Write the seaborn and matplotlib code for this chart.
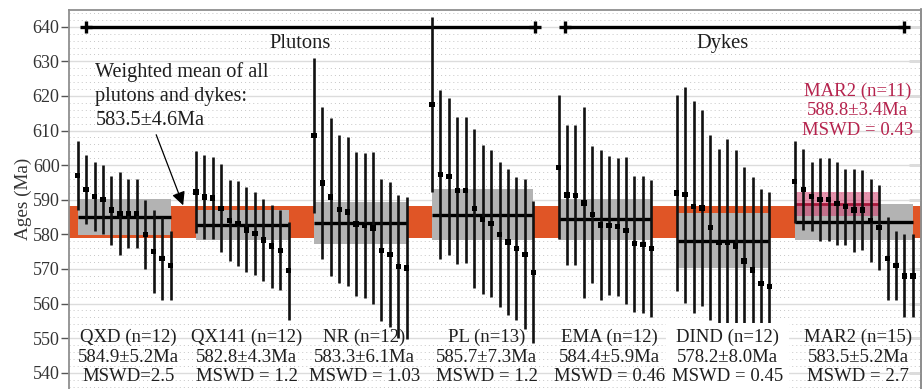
import matplotlib

matplotlib.use("Agg")
import matplotlib.pyplot as plt
import numpy as np
import pandas as pd
import seaborn as sns
from matplotlib.ticker import MultipleLocator

# single-grain ages (Ma) and 2-sigma errors, read group by group
qxd_age = [597.0, 593.0, 591.0, 590.0, 587.0, 586.0, 586.0, 586.0, 580.0, 575.0, 573.0, 571.0]
qxd_err = [10.0, 10.0, 10.0, 10.0, 10.0, 12.0, 10.0, 10.0, 10.0, 12.0, 12.0, 10.0]

qx141_age = [592.3, 590.8, 590.5, 587.5, 584.0, 583.2, 581.3, 580.2, 578.4, 576.6, 575.4, 569.5]
qx141_err = [11.8, 12.1, 11.8, 12.7, 11.8, 12.3, 12.3, 12.0, 11.8, 12.0, 11.5, 14.2]

nr_age = [608.6, 594.8, 590.8, 587.2, 586.5, 583.0, 582.5, 581.8, 575.4, 574.1, 570.7, 570.3]
nr_err = [22.3, 21.9, 22.7, 21.4, 21.5, 20.7, 21.0, 22.0, 20.5, 21.0, 20.6, 20.6]

pl_age = [617.6, 597.3, 596.7, 592.7, 592.7, 587.5, 584.3, 583.2, 580.0, 577.8, 575.9, 574.2, 569.0]
pl_err = [25.3, 24.5, 22.6, 21.3, 21.1, 23.1, 21.4, 21.2, 21.0, 21.1, 20.6, 21.7, 20.5]

ema_age = [599.4, 591.4, 591.3, 589.1, 585.8, 582.7, 582.6, 582.2, 581.2, 577.3, 577.0, 576.0]
ema_err = [20.8, 20.2, 20.3, 27.6, 19.8, 21.7, 20.1, 20.0, 21.2, 19.7, 19.8, 19.8]

dind_age = [592.0, 591.5, 588.0, 587.6, 582.0, 577.6, 577.6, 576.6, 572.3, 569.7, 565.8, 564.9]
dind_err = [28.3, 31.2, 30.6, 28.3, 26.8, 27.0, 29.9, 27.8, 27.3, 27.0, 27.2, 27.4]

mar2_age = [595.2, 593.0, 591.0, 590.0, 590.0, 589.0, 588.0, 587.0, 587.0, 584.0, 582.0, 573.0, 571.0, 568.0, 568.0]
mar2_err = [11.8, 11.8, 9.9, 12.0, 12.0, 12.0, 11.0, 12.0, 11.5, 12.0, 12.2, 12.0, 10.0, 12.0, 12.0]

group_names = ["QXD", "QX141", "NR", "PL", "EMA", "DIND", "MAR2"]
group_ages = [qxd_age, qx141_age, nr_age, pl_age, ema_age, dind_age, mar2_age]
group_errs = [qxd_err, qx141_err, nr_err, pl_err, ema_err, dind_err, mar2_err]
group_mean = [584.9, 582.8, 583.3, 585.7, 584.4, 578.2, 583.5]
group_mean_err = [5.2, 4.3, 6.1, 7.3, 5.9, 8.0, 5.2]
group_mswd = ["MSWD=2.5", "MSWD = 1.2", "MSWD = 1.03", "MSWD = 1.2",
              "MSWD = 0.46", "MSWD = 0.45", "MSWD = 2.7"]

all_mean = 583.5
all_err = 4.6

# MAR2 subset of the first 11 grains
sub_n = 11
sub_mean = 588.8
sub_err = 3.4
sub_mswd = "MSWD = 0.43"

plutons_span = [2.0, 55.2]
dykes_span = [58.8, 99.0]

GAP = 2
ORANGE = "#e05526"
GREY = "#b3b3b3"
CRIMSON = "#b5234d"
TEXT = "#1e1e1e"

sns.set_theme(style="white")
plt.rcParams["font.family"] = ["Liberation Serif", "DejaVu Serif"]


def build_frame() -> pd.DataFrame:
    rows = []
    start = 1
    for name, ages, errs in zip(group_names, group_ages, group_errs):
        for i, (a, e) in enumerate(zip(ages, errs)):
            rows.append({"group": name, "pos": start + i, "age": a, "err": e})
        start += len(ages) + GAP
    return pd.DataFrame(rows)


df = build_frame()

fig = plt.figure(figsize=(9.22, 3.89), dpi=100)
ax = fig.add_axes([69.3 / 922, 0.0, 1 - 70.0 / 922, 1 - 9.5 / 389])

ax.axhspan(all_mean - all_err, all_mean + all_err, color=ORANGE, lw=0, zorder=1)

for k, name in enumerate(group_names):
    g = df[df["group"] == name]
    x0, x1 = g["pos"].min(), g["pos"].max()
    m, e = group_mean[k], group_mean_err[k]
    ax.fill_between([x0, x1], m - e, m + e, color=GREY, lw=0, zorder=2)
    ax.hlines(m, x0, x1, color="black", lw=2.4, zorder=4)
    label = f"{name} (n={len(g)})\n{m:.1f}±{e:.1f}Ma\n{group_mswd[k]}"
    box = None
    if name == "DIND":
        box = dict(boxstyle="square,pad=0.3", fc="white", ec="none")
    ax.text((x0 + x1) / 2 + 0.5, 544.5, label, ha="center", va="center",
            fontsize=13.5, linespacing=1.2, color=TEXT, zorder=7, bbox=box)

# MAR2 sub-population
m2 = df[df["group"] == "MAR2"].iloc[:sub_n]
s0, s1 = m2["pos"].min(), m2["pos"].max()
ax.fill_between([s0, s1], sub_mean - sub_err, sub_mean + sub_err,
                color="#d23a6a", alpha=0.55, lw=0, zorder=3)
ax.hlines(sub_mean, s0, s1, color="#a8173a", lw=2.0, zorder=4)
ax.text((s0 + s1) / 2 + 2.4, 615.8,
        f"MAR2 (n={sub_n})\n{sub_mean:.1f}±{sub_err:.1f}Ma\n{sub_mswd}",
        ha="center", va="center", fontsize=13.5, linespacing=1.2, color=CRIMSON)

ax.vlines(df["pos"], df["age"] - df["err"], df["age"] + df["err"],
          color="#111111", lw=1.9, zorder=5)
sns.scatterplot(data=df, x="pos", y="age", marker="s", s=15, color="black",
                edgecolor="none", zorder=6, legend=False, ax=ax)

# plutons / dykes brackets
for span in [plutons_span, dykes_span]:
    ax.plot(span, [640, 640], color="black", lw=2.4, marker="+", ms=9, mew=2.4,
            zorder=4)
ax.text(27.4, 635.3, "Plutons", ha="center", va="center", fontsize=14.8, color=TEXT)
ax.text(77.4, 635.3, "Dykes", ha="center", va="center", fontsize=14.8, color=TEXT)

ax.text(3.1, 620.0, f"Weighted mean of all\nplutons and dykes:\n{all_mean:.1f}±{all_err:.1f}Ma",
        ha="left", va="center", fontsize=14.6, linespacing=1.35, color=TEXT, zorder=7)
ax.annotate("", xy=(13.5, 588.4), xytext=(10.3, 608.8),
            arrowprops=dict(arrowstyle="-|>", color="black", lw=0.9,
                            mutation_scale=20, shrinkA=0, shrinkB=0), zorder=8)

ax.set_xlim(0, 101)
ax.set_ylim(535.3, 645.0)
ax.set_xlabel("")
ax.set_xticks([])
ax.set_yticks(np.arange(540, 641, 10))
ax.yaxis.set_minor_locator(MultipleLocator(2))
ax.set_axisbelow(True)
ax.grid(axis="y", which="major", color="#dcdcdc", lw=1.0, ls="-")
ax.grid(axis="y", which="minor", color="#c6c6c6", lw=0.7, ls=(0, (1, 3.2)))
ax.tick_params(axis="y", which="major", direction="out", length=6, width=1.0,
               color="#555555", pad=1.0, labelsize=13, labelcolor="#333333", left=True)
ax.tick_params(axis="y", which="minor", length=0)

ax.set_ylabel("Ages (Ma)", fontsize=13.8, color="#333333")
ax.yaxis.set_label_coords((32 - 69.3) / 852.0, 0.5)

for side in ["left", "top", "right"]:
    ax.spines[side].set_color("#8f8f8f")
    ax.spines[side].set_linewidth(1.3)
ax.spines["bottom"].set_visible(False)

sec = ax.secondary_yaxis("right")
sec.set_yticks(np.arange(540, 641, 10))
sec.tick_params(direction="in", length=9, width=1.0, color="#555555", labelright=False)
sec.spines["right"].set_color("#8f8f8f")
sec.spines["right"].set_linewidth(1.3)

fig.savefig("out.png", dpi=100)
plt.close(fig)
